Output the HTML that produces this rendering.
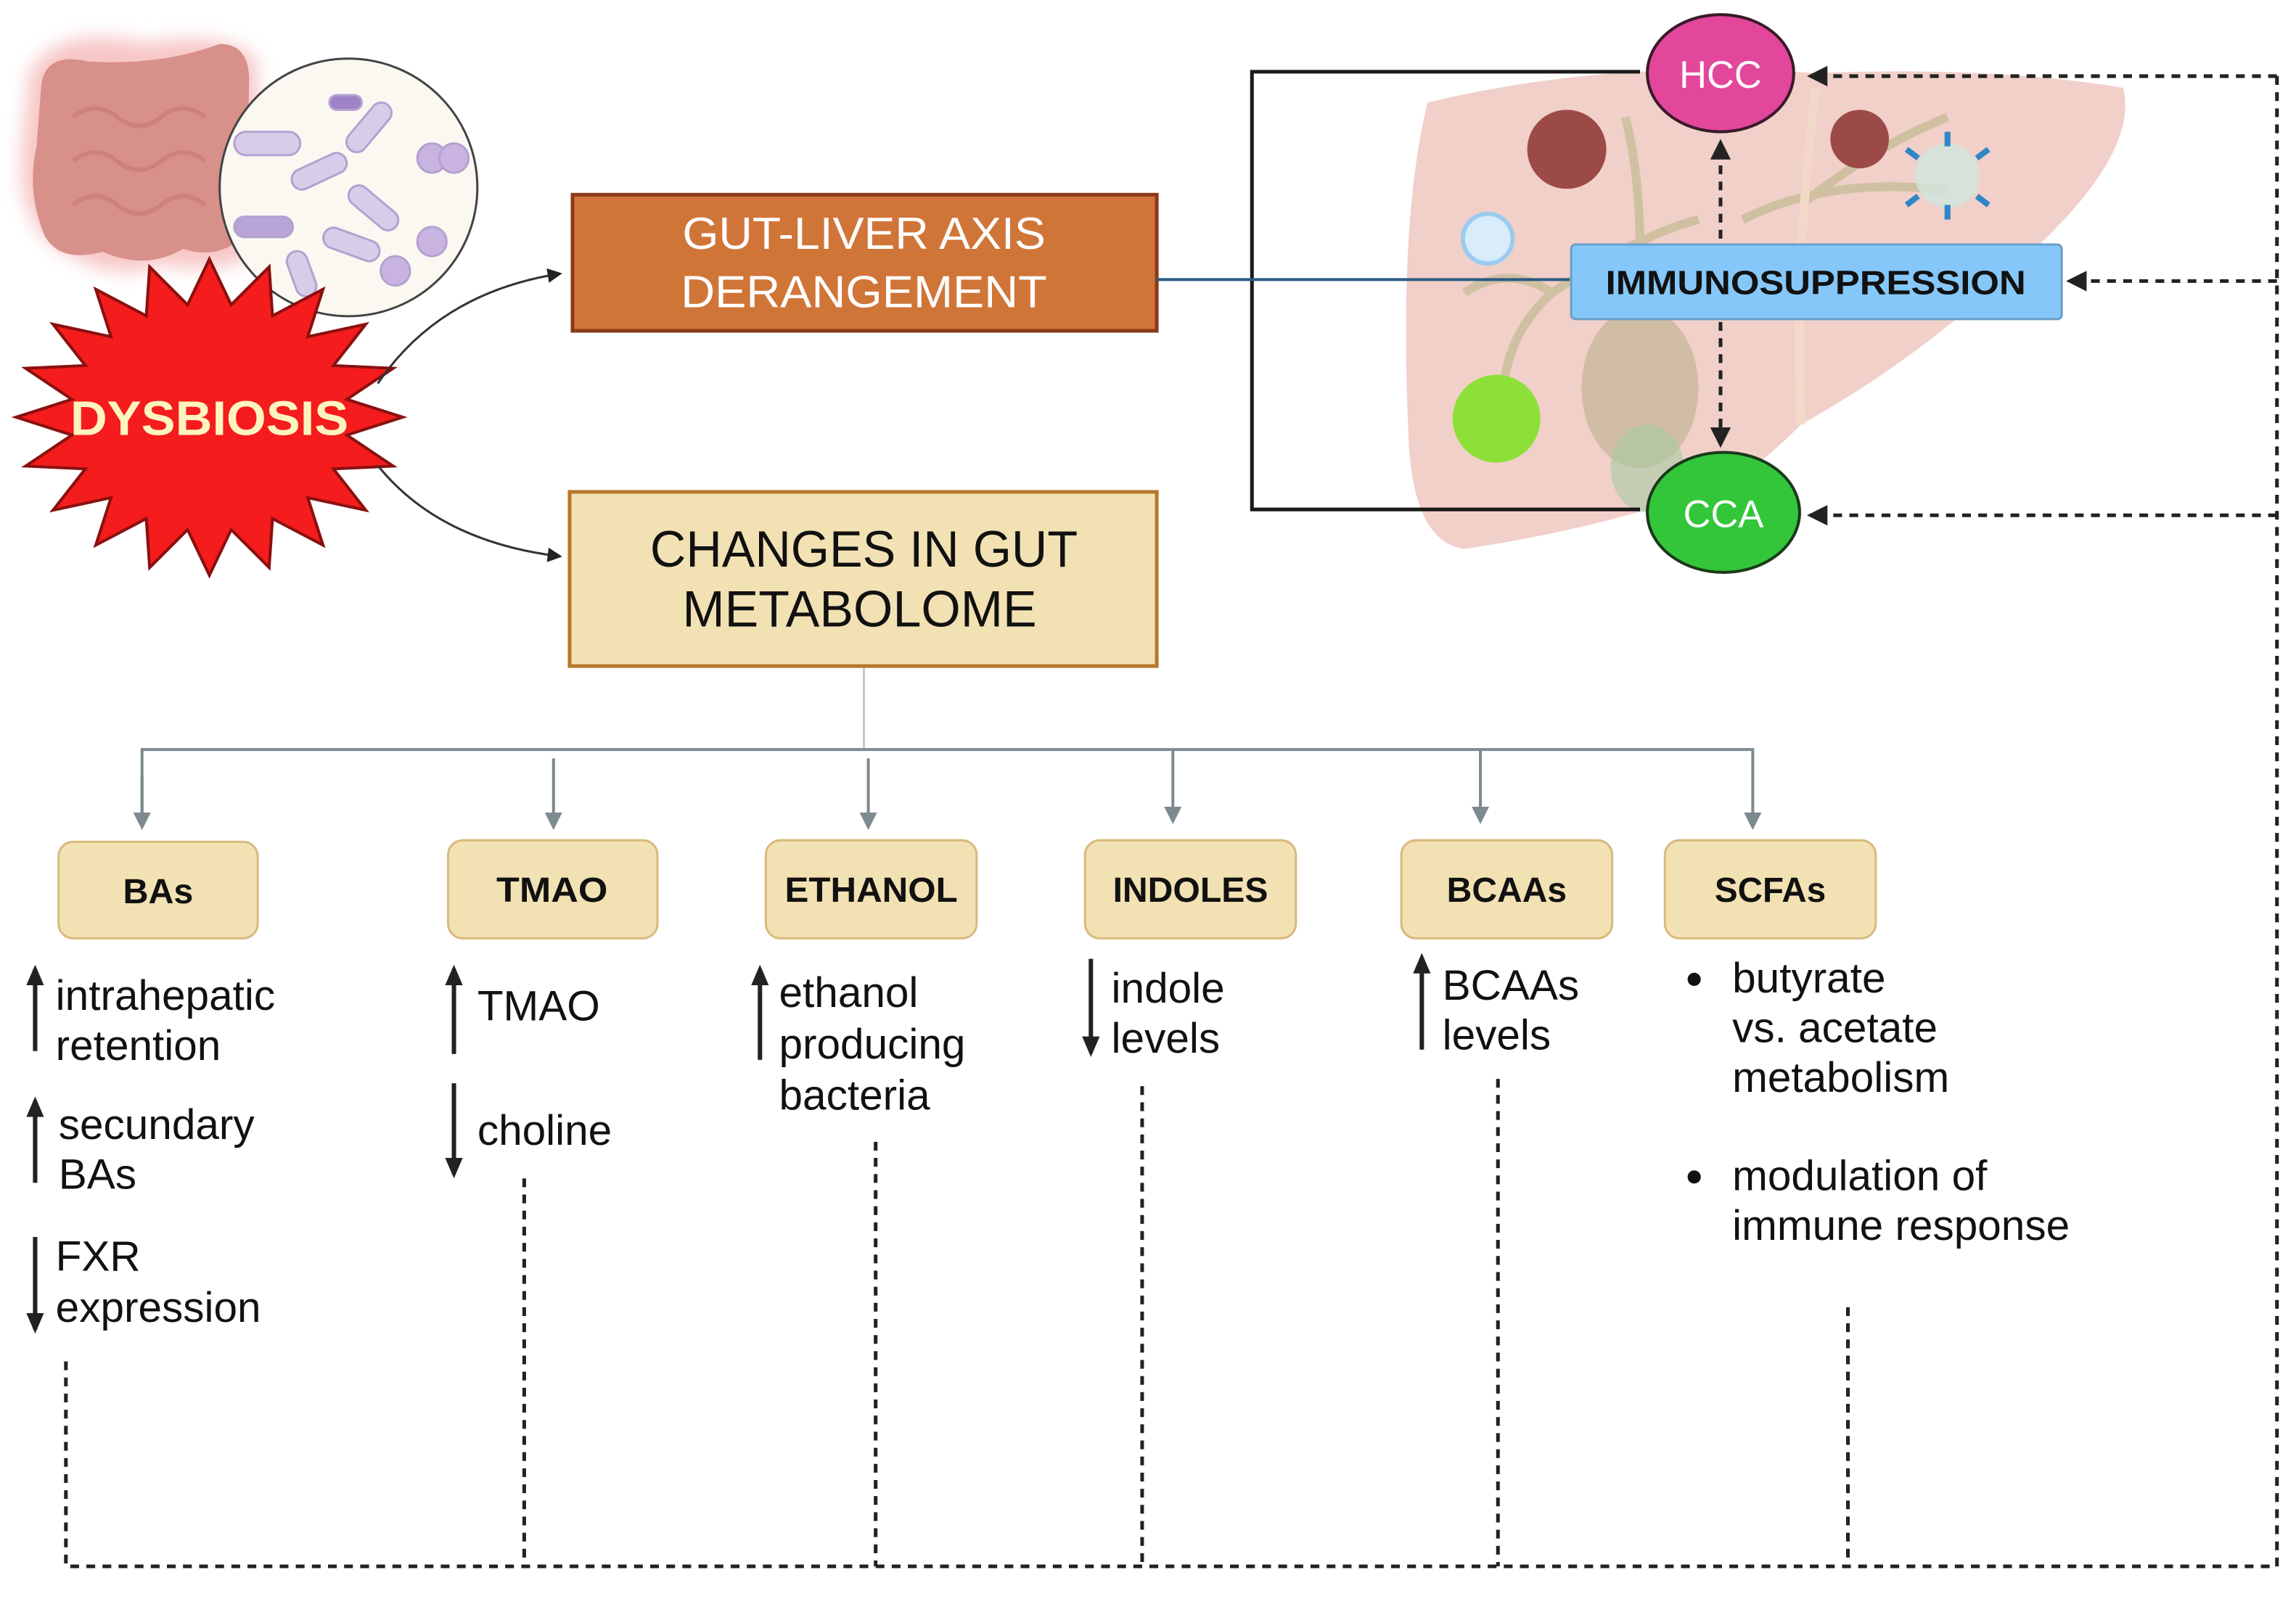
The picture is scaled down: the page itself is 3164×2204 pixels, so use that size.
<!DOCTYPE html>
<html><head><meta charset="utf-8"><style>
html,body{margin:0;padding:0;background:#fff;}
svg{display:block;}
text{font-family:"Liberation Sans",sans-serif;}
</style></head><body>
<svg id="s" width="3164" height="2204" viewBox="0 0 1568 1092.3" preserveAspectRatio="none" xmlns="http://www.w3.org/2000/svg">
<defs>
<marker id="ab" markerWidth="10" markerHeight="10" refX="8" refY="5" orient="auto" markerUnits="userSpaceOnUse"><path d="M0,0 L10,5 L0,10 z" fill="#222"/></marker>
<marker id="at" markerWidth="14" markerHeight="12" refX="11" refY="6" orient="auto" markerUnits="userSpaceOnUse"><path d="M0,0 L14,6 L0,12 z" fill="#222"/></marker>
<marker id="ag" markerWidth="12" markerHeight="12" refX="10" refY="6" orient="auto" markerUnits="userSpaceOnUse"><path d="M0,0 L12,6 L0,12 z" fill="#7d8a90"/></marker>
<marker id="ad" markerWidth="14" markerHeight="14" refX="12" refY="7" orient="auto" markerUnits="userSpaceOnUse"><path d="M0,0 L14,7 L0,14 z" fill="#222"/></marker>
<filter id="bl"><feGaussianBlur stdDeviation="6"/></filter>
</defs>

<!-- gut -->
<path d="M20,50 Q40,15 100,30 Q150,20 175,40 L180,170 Q150,190 110,180 Q80,195 40,170 Q10,150 15,100 Z" fill="#f2a0a0" filter="url(#bl)" opacity="0.6"/>
<path d="M28,60 Q30,35 60,42 Q110,45 150,30 Q172,30 170,60 L168,160 Q150,178 125,170 Q100,185 70,172 Q40,180 30,160 Q18,130 25,100 Z" fill="#d8908a"/>
<g fill="none" stroke="#c77c78" stroke-width="3" opacity="0.7">
<path d="M50,80 q15,-12 30,0 t30,0 t30,0"/><path d="M50,110 q15,-12 30,0 t30,0 t30,0"/><path d="M50,140 q15,-12 30,0 t30,0 t30,0"/>
</g>
<!-- bacteria circle -->
<circle cx="238" cy="128" r="88" fill="#fbf8f2" stroke="#444" stroke-width="1.5"/>
<g fill="#d8cde8" stroke="#b3a2d0" stroke-width="1.5">
<rect x="160" y="90" width="45" height="16" rx="8"/>
<rect x="232" y="80" width="40" height="14" rx="7" transform="rotate(-50 252 87)"/>
<rect x="198" y="110" width="40" height="14" rx="7" transform="rotate(-25 218 117)"/>
<rect x="235" y="135" width="40" height="14" rx="7" transform="rotate(40 255 142)"/>
<rect x="220" y="160" width="40" height="14" rx="7" transform="rotate(20 240 167)"/>
<rect x="160" y="148" width="40" height="14" rx="7" fill="#b9a4d8"/>
<rect x="190" y="180" width="32" height="14" rx="7" transform="rotate(70 206 187)"/>
<circle cx="295" cy="108" r="10" fill="#c9b3e0"/><circle cx="310" cy="108" r="10" fill="#c9b3e0"/>
<circle cx="295" cy="165" r="10" fill="#c9b3e0"/><circle cx="270" cy="185" r="10" fill="#c9b3e0"/>
<rect x="225" y="65" width="22" height="10" rx="5" fill="#9e83c8"/>
</g>
<!-- starburst -->
<polygon id="star" fill="#f41c1c" stroke="#8a1010" stroke-width="2"/>
<text x="143" y="297" font-size="33" font-weight="bold" fill="#fff4c0" text-anchor="middle" textLength="190" lengthAdjust="spacingAndGlyphs">DYSBIOSIS</text>

<!-- curved arrows -->
<path d="M258,262 Q300,200 382,187" fill="none" stroke="#333" stroke-width="1.5" marker-end="url(#ab)"/>
<path d="M258,318 Q300,370 382,380" fill="none" stroke="#333" stroke-width="1.5" marker-end="url(#ab)"/>

<!-- main boxes -->
<rect x="391" y="133" width="399" height="93" fill="#d07538" stroke="#8b3a1a" stroke-width="2.5"/>
<text x="590" y="170" font-size="31" fill="#fff" text-anchor="middle" textLength="248" lengthAdjust="spacingAndGlyphs">GUT-LIVER AXIS</text>
<text x="590" y="210" font-size="31" fill="#fff" text-anchor="middle" textLength="250" lengthAdjust="spacingAndGlyphs">DERANGEMENT</text>
<rect x="389" y="336" width="401" height="119" fill="#f2e1b3" stroke="#b5782a" stroke-width="2.5"/>
<text x="590" y="387" font-size="35" fill="#111" text-anchor="middle" textLength="292" lengthAdjust="spacingAndGlyphs">CHANGES IN GUT</text>
<text x="587" y="428" font-size="35" fill="#111" text-anchor="middle" textLength="242" lengthAdjust="spacingAndGlyphs">METABOLOME</text>

<!-- liver -->
<path d="M975,70 Q1100,40 1240,50 Q1360,45 1450,60 Q1460,100 1400,160 Q1320,240 1230,290 Q1200,320 1180,330 Q1100,360 1000,375 Q965,370 962,300 Q955,150 975,70 Z" fill="#eec8c0" opacity="0.85"/>
<g stroke="#cdbf9e" stroke-width="6" fill="none" opacity="0.9">
<path d="M1030,310 Q1015,240 1060,200 Q1120,160 1160,150"/>
<path d="M1060,200 Q1030,180 1000,200"/>
<path d="M1120,170 Q1120,120 1110,80"/>
<path d="M1190,150 Q1250,120 1330,130"/>
<path d="M1230,140 Q1280,100 1330,80"/>
<path d="M1240,60 Q1225,180 1230,290" stroke="#f3d9c8"/>
</g>
<ellipse cx="1120" cy="265" rx="40" ry="55" fill="#c5b79a" opacity="0.75"/>
<ellipse cx="1125" cy="320" rx="25" ry="30" fill="#a6c9a2" opacity="0.6"/>
<circle cx="1070" cy="102" r="27" fill="#9c4a48"/>
<circle cx="1270" cy="95" r="20" fill="#9c4a48"/>
<circle cx="1016" cy="163" r="17" fill="#d8ecfa" stroke="#9ccbef" stroke-width="3"/>
<circle cx="1022" cy="286" r="30" fill="#8ee038"/>
<circle cx="1330" cy="120" r="22" fill="#cfe6df" opacity="0.8"/>
<g stroke="#2f86c7" stroke-width="4"><line x1="1330" y1="90" x2="1330" y2="100"/><line x1="1330" y1="140" x2="1330" y2="150"/><line x1="1302" y1="102" x2="1310" y2="108"/><line x1="1358" y1="102" x2="1350" y2="108"/><line x1="1302" y1="140" x2="1310" y2="134"/><line x1="1358" y1="140" x2="1350" y2="134"/></g>

<!-- bracket -->
<polyline points="1120,49 855,49 855,348 1120,348" fill="none" stroke="#1a1a1a" stroke-width="2.5"/>
<line x1="790" y1="191" x2="1072" y2="191" stroke="#2b5b85" stroke-width="2"/>

<!-- HCC / CCA -->
<ellipse cx="1175" cy="50" rx="50" ry="40" fill="#e2479b" stroke="#3a1a2a" stroke-width="2"/>
<text x="1175" y="60" font-size="26" fill="#fff" text-anchor="middle">HCC</text>
<ellipse cx="1177" cy="350" rx="52" ry="41" fill="#33c63a" stroke="#1a3a1a" stroke-width="2"/>
<text x="1177" y="360" font-size="26" fill="#fff" text-anchor="middle">CCA</text>

<!-- immunosuppression -->
<rect x="1073" y="167" width="335" height="51" rx="3" fill="#85c7f8" stroke="#6aa0c8" stroke-width="1.5"/>
<text x="1240" y="201" font-size="23" font-weight="bold" fill="#111" text-anchor="middle" textLength="287" lengthAdjust="spacingAndGlyphs">IMMUNOSUPPRESSION</text>

<!-- dashed liver arrows -->
<g stroke="#222" stroke-width="2.5" stroke-dasharray="6,5" fill="none">
<line x1="1175" y1="163" x2="1175" y2="97" marker-end="url(#ad)"/>
<line x1="1175" y1="220" x2="1175" y2="304" marker-end="url(#ad)"/>
<polyline points="1555,52 1555,1070 45,1070 45,930"/>
<line x1="1555" y1="52" x2="1236" y2="52" marker-end="url(#ad)"/>
<line x1="1555" y1="192" x2="1413" y2="192" marker-end="url(#ad)"/>
<line x1="1555" y1="352" x2="1236" y2="352" marker-end="url(#ad)"/>
<line x1="358" y1="805" x2="358" y2="1070"/>
<line x1="598" y1="780" x2="598" y2="1070"/>
<line x1="780" y1="742" x2="780" y2="1070"/>
<line x1="1023" y1="737" x2="1023" y2="1070"/>
<line x1="1262" y1="893" x2="1262" y2="1070"/>
</g>

<!-- tree -->
<g stroke="#7d8a90" stroke-width="2" fill="none">
<line x1="590" y1="456" x2="590" y2="512" stroke="#bbb" stroke-width="1.2"/>
<polyline points="97,565 97,512 1197,512 1197,565" marker-end="url(#ag)"/>
<line x1="97" y1="530" x2="97" y2="565" marker-end="url(#ag)"/>
<line x1="378" y1="518" x2="378" y2="565" marker-end="url(#ag)"/>
<line x1="593" y1="518" x2="593" y2="565" marker-end="url(#ag)"/>
<line x1="801" y1="512" x2="801" y2="561" marker-end="url(#ag)"/>
<line x1="1011" y1="512" x2="1011" y2="561" marker-end="url(#ag)"/>
</g>

<!-- category boxes -->
<g fill="#f2e1b3" stroke="#d9b97f" stroke-width="1.5">
<rect x="40" y="575" width="136" height="66" rx="10"/>
<rect x="306" y="574" width="143" height="67" rx="10"/>
<rect x="523" y="574" width="144" height="67" rx="10"/>
<rect x="741" y="574" width="144" height="67" rx="10"/>
<rect x="957" y="574" width="144" height="67" rx="10"/>
<rect x="1137" y="574" width="144" height="67" rx="10"/>
</g>
<g font-size="24" font-weight="bold" fill="#111" text-anchor="middle">
<text x="108" y="617" textLength="48" lengthAdjust="spacingAndGlyphs">BAs</text>
<text x="377" y="616" textLength="76" lengthAdjust="spacingAndGlyphs">TMAO</text>
<text x="595" y="616" textLength="118" lengthAdjust="spacingAndGlyphs">ETHANOL</text>
<text x="813" y="616" textLength="106" lengthAdjust="spacingAndGlyphs">INDOLES</text>
<text x="1029" y="616" textLength="82" lengthAdjust="spacingAndGlyphs">BCAAs</text>
<text x="1209" y="616" textLength="76" lengthAdjust="spacingAndGlyphs">SCFAs</text>
</g>

<!-- arrows in text -->
<g stroke="#222" stroke-width="3" fill="none">
<line x1="24" y1="718" x2="24" y2="662" marker-end="url(#at)"/>
<line x1="24" y1="808" x2="24" y2="752" marker-end="url(#at)"/>
<line x1="24" y1="845" x2="24" y2="908" marker-end="url(#at)"/>
<line x1="310" y1="720" x2="310" y2="662" marker-end="url(#at)"/>
<line x1="310" y1="740" x2="310" y2="802" marker-end="url(#at)"/>
<line x1="519" y1="724" x2="519" y2="662" marker-end="url(#at)"/>
<line x1="745" y1="655" x2="745" y2="719" marker-end="url(#at)"/>
<line x1="971" y1="717" x2="971" y2="654" marker-end="url(#at)"/>
</g>
<g font-size="29" fill="#111">
<text x="38" y="690">intrahepatic</text>
<text x="38" y="724">retention</text>
<text x="40" y="778">secundary</text>
<text x="40" y="812">BAs</text>
<text x="38" y="868">FXR</text>
<text x="38" y="903">expression</text>
<text x="326" y="697">TMAO</text>
<text x="326" y="782">choline</text>
<text x="532" y="688">ethanol</text>
<text x="532" y="723">producing</text>
<text x="532" y="758">bacteria</text>
<text x="759" y="685">indole</text>
<text x="759" y="719">levels</text>
<text x="985" y="683">BCAAs</text>
<text x="985" y="717">levels</text>
<text x="1183" y="678">butyrate</text>
<text x="1183" y="712">vs. acetate</text>
<text x="1183" y="746">metabolism</text>
<text x="1183" y="813">modulation of</text>
<text x="1183" y="847">immune response</text>
</g>
<circle cx="1157" cy="669" r="4.5" fill="#111"/>
<circle cx="1157" cy="804" r="4.5" fill="#111"/>
</svg>
<script>
(function(){var cx=143,cy=285,n=20,p=[];for(var i=0;i<2*n;i++){var a=Math.PI*i/n-Math.PI/2;var r=(i%2==0)?1:0.72;p.push((cx+Math.cos(a)*132*r).toFixed(1)+","+(cy+Math.sin(a)*108*r).toFixed(1));}document.getElementById('star').setAttribute('points',p.join(' '));})();
</script>
</body></html>
